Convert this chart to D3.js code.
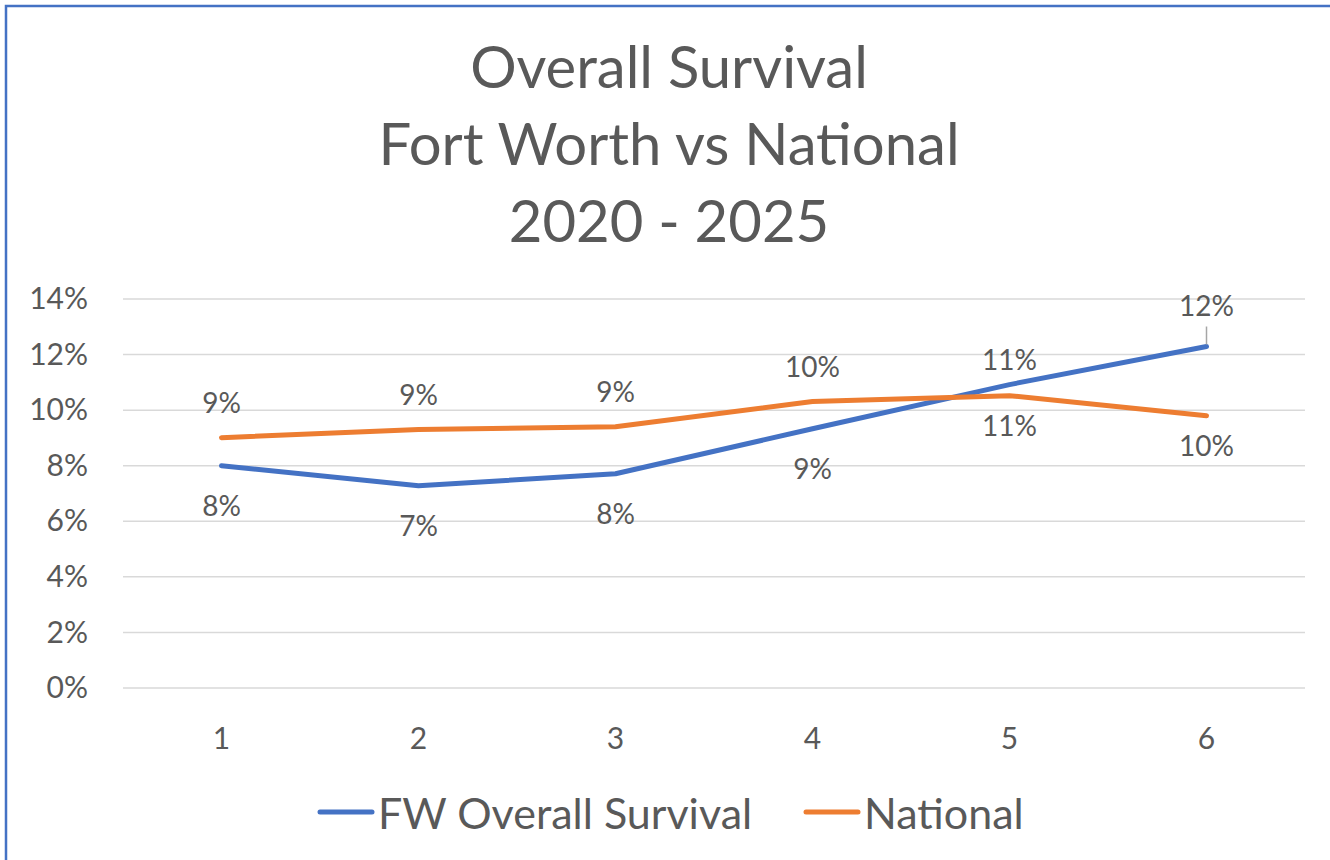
<!DOCTYPE html>
<html><head><meta charset="utf-8">
<script src="https://cdn.jsdelivr.net/npm/d3@7"></script>
<style>body{margin:0;background:#fff}svg{display:block}text{font-family:Lato,"Open Sans",sans-serif;fill:#595959}</style>
</head><body>
<svg id="c" width="1330" height="860"></svg>
<script>
const categories = ["1","2","3","4","5","6"];
const fwValues = [0.080, 0.0728, 0.0771, 0.0933, 0.1092, 0.1229];
const nationalValues = [0.0901, 0.0930, 0.0940, 0.1031, 0.1052, 0.0980];
const yTicks = [0, 0.02, 0.04, 0.06, 0.08, 0.10, 0.12, 0.14];
const fwLabelSide = ["below","below","below","below","above","above"];
const natLabelSide = ["above","above","above","above","below","below"];
const seriesNames = ["FW Overall Survival", "National"];
const titleLines = ["Overall Survival", "Fort Worth vs National", "2020 - 2025"];

const svg = d3.select("#c");
const blue = "#4472C4", orange = "#ED7D31";

svg.append("rect").attr("x",6).attr("y",6).attr("width",1340).attr("height",870)
  .attr("fill","none").attr("stroke",blue).attr("stroke-width",2.5);

svg.selectAll(".title").data(titleLines).join("text")
  .attr("x",669).attr("y",(d,i)=>65+i*77).attr("text-anchor","middle")
  .attr("dominant-baseline","central").attr("font-size",58).text(d=>d);

const x = d3.scaleBand().domain(categories).range([123,1305]);
const y = d3.scaleLinear().domain([0,0.14]).range([688,299]);

const grid = svg.append("g");
grid.selectAll("line").data(yTicks).join("line")
  .attr("x1",123).attr("x2",1305).attr("y1",d=>y(d)).attr("y2",d=>y(d))
  .attr("stroke","#D9D9D9").attr("stroke-width",1.5);

const yAxis = svg.append("g").attr("transform","translate(88,0)")
  .call(d3.axisLeft(y).tickValues(yTicks).tickFormat(d3.format(".0%")).tickSize(0).tickPadding(0));
yAxis.select(".domain").remove();
yAxis.selectAll("text").attr("font-size",30).attr("font-family","Lato").attr("fill","#595959");

const xAxis = svg.append("g").attr("transform","translate(0,738)")
  .call(d3.axisBottom(x).tickSize(0));
xAxis.select(".domain").remove();
xAxis.selectAll("text").attr("font-size",30).attr("font-family","Lato").attr("fill","#595959").attr("dy","0.35em").attr("y",0);

const cx = d => x(d) + x.bandwidth()/2;
const line = d3.line().x((d,i)=>cx(categories[i])).y(d=>y(d));

[[fwValues,blue],[nationalValues,orange]].forEach(([vals,col])=>{
  svg.append("path").datum(vals).attr("d",line).attr("fill","none")
    .attr("stroke",col).attr("stroke-width",5).attr("stroke-linecap","round").attr("stroke-linejoin","round");
});

const fmt = d3.format(".0%");
svg.append("g").selectAll("text").data(nationalValues).join("text")
  .attr("x",(d,i)=>cx(categories[i]))
  .attr("y",(d,i)=>y(d) + (natLabelSide[i]==="above" ? -36 : 29))
  .attr("text-anchor","middle").attr("dominant-baseline","central")
  .attr("font-size",28).text(d=>fmt(d));
// FW labels: last one is pulled further up with a leader line
svg.append("g").selectAll("text").data(fwValues).join("text")
  .attr("x",(d,i)=>cx(categories[i]))
  .attr("y",(d,i)=>y(d) + (fwLabelSide[i]==="above" ? (i===5?-42:-26) : 39))
  .attr("text-anchor","middle").attr("dominant-baseline","central")
  .attr("font-size",28).text(d=>fmt(d));
svg.append("line").attr("x1",cx(categories[5])).attr("x2",cx(categories[5]))
  .attr("y1",y(fwValues[5])-2).attr("y2",y(fwValues[5])-20)
  .attr("stroke","#A6A6A6").attr("stroke-width",1.5);

// legend
const leg = [[seriesNames[0],blue,320],[seriesNames[1],orange,806]];
leg.forEach(([name,col,lx])=>{
  svg.append("line").attr("x1",lx).attr("x2",lx+52).attr("y1",812).attr("y2",812)
    .attr("stroke",col).attr("stroke-width",5).attr("stroke-linecap","round");
  svg.append("text").attr("x",lx+58).attr("y",812).attr("dominant-baseline","central")
    .attr("font-size",43).text(name);
});
</script>
</body></html>
